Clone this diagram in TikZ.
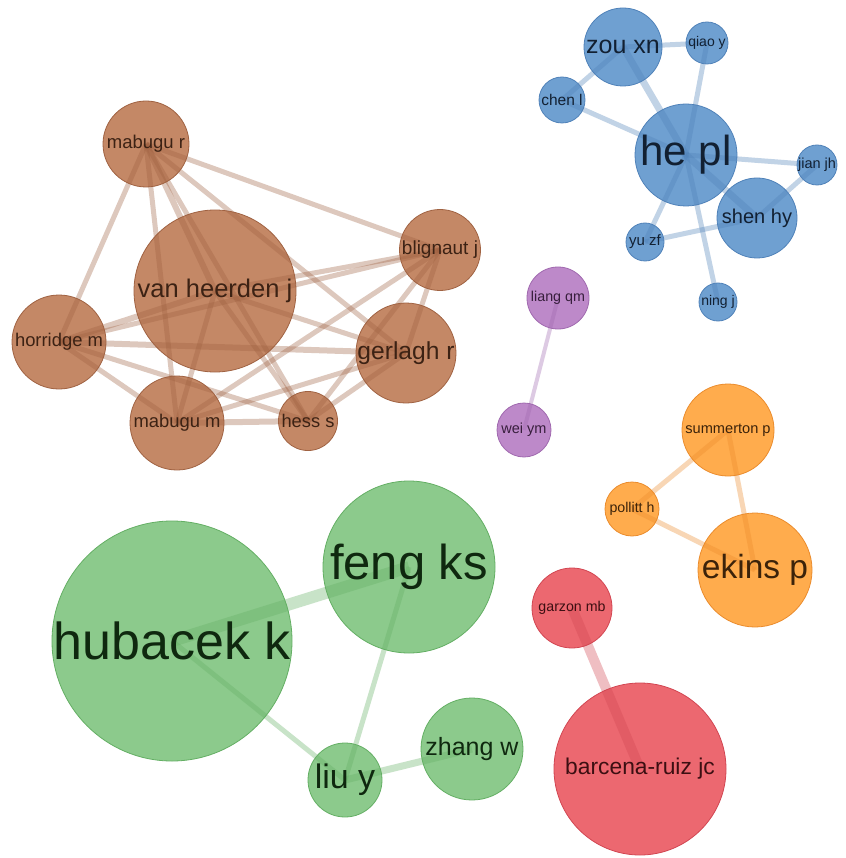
\documentclass[tikz,border=0pt]{standalone}
\usepackage{fontspec}
\setmainfont{Liberation Sans}
\definecolor{brF}{RGB}{196,136,102}
\definecolor{brD}{RGB}{160,98,66}
\definecolor{brT}{RGB}{60,34,20}
\definecolor{blF}{RGB}{111,160,209}
\definecolor{blD}{RGB}{80,130,185}
\definecolor{blT}{RGB}{18,32,50}
\definecolor{puF}{RGB}{189,137,201}
\definecolor{puD}{RGB}{160,105,175}
\definecolor{puT}{RGB}{55,30,60}
\definecolor{orF}{RGB}{255,172,77}
\definecolor{orD}{RGB}{235,140,45}
\definecolor{orT}{RGB}{60,35,10}
\definecolor{reF}{RGB}{236,104,112}
\definecolor{reD}{RGB}{210,70,82}
\definecolor{reT}{RGB}{60,15,18}
\definecolor{grF}{RGB}{140,202,140}
\definecolor{grD}{RGB}{100,175,100}
\definecolor{grT}{RGB}{15,40,15}
\tikzset{
  bub/.style={circle, inner sep=0pt, line width=0.8pt},
  brN/.style={bub, fill=brF, draw=brD},
  blN/.style={bub, fill=blF, draw=blD},
  puN/.style={bub, fill=puF, draw=puD},
  orN/.style={bub, fill=orF, draw=orD},
  reN/.style={bub, fill=reF, draw=reD},
  grN/.style={bub, fill=grF, draw=grD},
  lnk/.style={line width=5pt, draw opacity=0.35},
  brE/.style={lnk, draw=brD},
  blE/.style={lnk, draw=blD},
  puE/.style={lnk, draw=puD, line width=4pt},
  orE/.style={lnk, draw=orD},
  reE/.style={lnk, draw=reD},
  grE/.style={lnk, draw=grD},
  lbl/.style={inner sep=0pt, anchor=center},
}
\newcommand{\fsz}[1]{\fontsize{#1}{#1}\selectfont}
\begin{document}
\begin{tikzpicture}[x=1pt, y=-1pt]
\fill[white] (0,0) rectangle (845,858);
\useasboundingbox (0,0) rectangle (845,858);
% brown cluster
\node[brN, minimum size=86pt] (mr) at (146,144) {};
\node[brN, minimum size=162pt] (vh) at (215,291) {};
\node[brN, minimum size=81pt] (bj) at (440,250) {};
\node[brN, minimum size=94pt] (hm) at (59,342) {};
\node[brN, minimum size=100pt] (gr) at (406,353) {};
\node[brN, minimum size=94pt] (mm) at (177,423) {};
\node[brN, minimum size=59pt] (hs) at (308,421) {};
% blue cluster
\node[blN, minimum size=78pt] (zx) at (623,47) {};
\node[blN, minimum size=42pt] (qy) at (707,43) {};
\node[blN, minimum size=46pt] (cl) at (562,100) {};
\node[blN, minimum size=102pt] (hp) at (686,155) {};
\node[blN, minimum size=40pt] (jj) at (817,165) {};
\node[blN, minimum size=80pt] (sh) at (757,218) {};
\node[blN, minimum size=38pt] (yz) at (645,242) {};
\node[blN, minimum size=38pt] (nj) at (718,302) {};
% purple
\node[puN, minimum size=62pt] (lq) at (558,298) {};
\node[puN, minimum size=54pt] (wy) at (524,430) {};
% orange
\node[orN, minimum size=92pt] (sp) at (728,430) {};
\node[orN, minimum size=54pt] (ph) at (632,509) {};
\node[orN, minimum size=114pt] (ek) at (755,570) {};
% red
\node[reN, minimum size=80pt] (gm) at (572,608) {};
\node[reN, minimum size=172pt] (bc) at (640,769) {};
% green
\node[grN, minimum size=240pt] (hk) at (172,641) {};
\node[grN, minimum size=172pt] (fk) at (409,567) {};
\node[grN, minimum size=74pt] (ly) at (345,780) {};
\node[grN, minimum size=102pt] (zw) at (472,749) {};
% brown links
\foreach \a/\b/\w in {mr/vh/6, mr/bj/5, mr/hm/5, mr/gr/5, mr/mm/5, mr/hs/5,
  vh/bj/5, vh/hm/6, vh/gr/5, vh/mm/5, vh/hs/5,
  bj/hm/5, bj/gr/5, bj/mm/5, bj/hs/5,
  hm/gr/6, hm/mm/5, hm/hs/5,
  gr/mm/5, gr/hs/5, mm/hs/6}
  \draw[brE, line width=\w pt] (\a.center) -- (\b.center);
% blue links
\foreach \a/\b/\w in {zx/qy/5, zx/cl/5, zx/hp/7, cl/hp/5, qy/hp/5, hp/jj/5,
  hp/sh/7, hp/yz/5, hp/nj/5, sh/jj/5, sh/yz/5}
  \draw[blE, line width=\w pt] (\a.center) -- (\b.center);
% purple link
\draw[puE] (lq.center) -- (wy.center);
% orange links
\draw[orE] (sp.center) -- (ph.center);
\draw[orE] (ph.center) -- (ek.center);
\draw[orE] (sp.center) -- (ek.center);
% red link
\draw[reE, line width=10pt] (gm.center) -- (bc.center);
% green links
\draw[grE, line width=12pt] (hk.center) -- (fk.center);
\draw[grE] (hk.center) -- (ly.center);
\draw[grE] (fk.center) -- (ly.center);
\draw[grE, line width=7pt] (ly.center) -- (zw.center);
% labels
\node[lbl, text=brT, font=\fsz{18.5}] (mr-t) at (mr.center) {mabugu r};
\node[lbl, text=brT, font=\fsz{25.5}] (vh-t) at (vh.center) {van heerden j};
\node[lbl, text=brT, font=\fsz{19}] (bj-t) at (bj.center) {blignaut j};
\node[lbl, text=brT, font=\fsz{18.4}] (hm-t) at (hm.center) {horridge m};
\node[lbl, text=brT, font=\fsz{24.6}] (gr-t) at (gr.center) {gerlagh r};
\node[lbl, text=brT, font=\fsz{18.4}] (mm-t) at (mm.center) {mabugu m};
\node[lbl, text=brT, font=\fsz{18.3}] (hs-t) at (hs.center) {hess s};
\node[lbl, text=blT, font=\fsz{25}] (zx-t) at (zx.center) {zou xn};
\node[lbl, text=blT, font=\fsz{14}] (qy-t) at (qy.center) {qiao y};
\node[lbl, text=blT, font=\fsz{15.5}] (cl-t) at (cl.center) {chen l};
\node[lbl, text=blT, font=\fsz{42}] (hp-t) at (hp.center) {he pl};
\node[lbl, text=blT, font=\fsz{14.5}] (jj-t) at (jj.center) {jian jh};
\node[lbl, text=blT, font=\fsz{20}] (sh-t) at (sh.center) {shen hy};
\node[lbl, text=blT, font=\fsz{15}] (yz-t) at (yz.center) {yu zf};
\node[lbl, text=blT, font=\fsz{14}] (nj-t) at (nj.center) {ning j};
\node[lbl, text=puT, font=\fsz{14.3}] (lq-t) at (lq.center) {liang qm};
\node[lbl, text=puT, font=\fsz{14.5}] (wy-t) at (wy.center) {wei ym};
\node[lbl, text=orT, font=\fsz{14.6}] (sp-t) at (sp.center) {summerton p};
\node[lbl, text=orT, font=\fsz{14.2}] (ph-t) at (ph.center) {pollitt h};
\node[lbl, text=orT, font=\fsz{33.5}] (ek-t) at (ek.center) {ekins p};
\node[lbl, text=reT, font=\fsz{14.2}] (gm-t) at (gm.center) {garzon mb};
\node[lbl, text=reT, font=\fsz{22.8}] (bc-t) at (bc.center) {barcena-ruiz jc};
\node[lbl, text=grT, font=\fsz{52}] (hk-t) at (hk.center) {hubacek k};
\node[lbl, text=grT, font=\fsz{49}] (fk-t) at (fk.center) {feng ks};
\node[lbl, text=grT, font=\fsz{34}] (ly-t) at (ly.center) {liu y};
\node[lbl, text=grT, font=\fsz{25}] (zw-t) at (zw.center) {zhang w};
\end{tikzpicture}
\end{document}
